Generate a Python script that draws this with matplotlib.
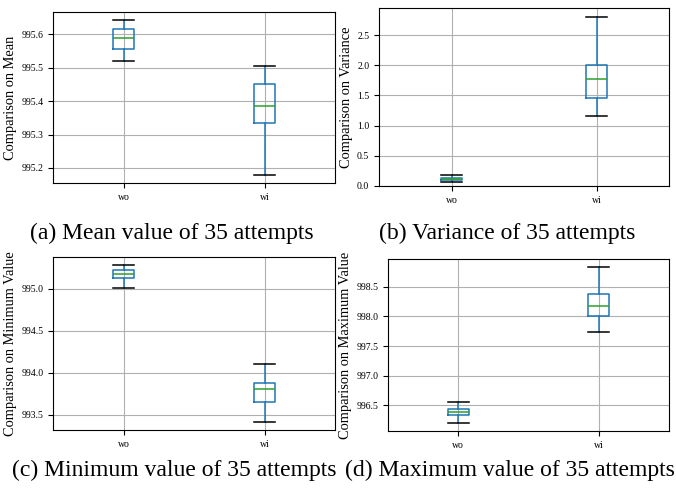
import matplotlib
matplotlib.use("Agg")
import matplotlib.pyplot as plt

plt.rcParams['font.family'] = ['Liberation Serif', 'DejaVu Serif']

labels = ["wo", "wi"]
# five-number summaries: [whislo, q1, med, q3, whishi]
mean_wo = [995.519, 995.556, 995.588, 995.617, 995.644]
mean_wi = [995.178, 995.335, 995.386, 995.452, 995.506]
var_wo = [0.066, 0.100, 0.120, 0.138, 0.187]
var_wi = [1.167, 1.465, 1.775, 2.000, 2.800]
min_wo = [995.008, 995.136, 995.180, 995.224, 995.288]
min_wi = [993.410, 993.650, 993.810, 993.875, 994.108]
max_wo = [996.196, 996.331, 996.387, 996.444, 996.562]
max_wi = [997.734, 998.005, 998.169, 998.371, 998.838]

ylabels = ["Comparison on Mean", "Comparison on Variance",
           "Comparison on Minimum Value", "Comparison on Maximum Value"]
captions = ["(a) Mean value of 35 attempts", "(b) Variance of 35 attempts",
            "(c) Minimum value of 35 attempts", "(d) Maximum value of 35 attempts"]

W, H = 676, 488
fig = plt.figure(figsize=(W / 100, H / 100), dpi=100)

def rect(x0, y0, x1, y1):
    return [x0 / W, 1 - y1 / H, (x1 - x0) / W, (y1 - y0) / H]

rects = [rect(53, 12, 335, 183), rect(379, 8, 669, 186),
         rect(53, 257, 335, 430), rect(388, 259, 669, 431)]
data = [(mean_wo, mean_wi), (var_wo, var_wi), (min_wo, min_wi), (max_wo, max_wi)]

def stats(s, lab):
    return dict(whislo=s[0], q1=s[1], med=s[2], q3=s[3], whishi=s[4], fliers=[], label=lab)

for i, (r, d) in enumerate(zip(rects, data)):
    ax = fig.add_axes(r)
    bxps = [stats(d[0], labels[0]), stats(d[1], labels[1])]
    ax.bxp(bxps, positions=[1, 2], widths=0.15, capwidths=0.15,
           boxprops=dict(color='#1f77b4', linewidth=1.1),
           whiskerprops=dict(color='#1f77b4', linewidth=1.1),
           capprops=dict(color='k', linewidth=1.1),
           medianprops=dict(color='#2ca02c', linewidth=1.1))
    ax.grid(True, color='#b0b0b0', linewidth=0.8)
    ax.set_axisbelow(True)
    ax.set_ylabel(ylabels[i], fontsize=10.4, labelpad=3)
    ax.tick_params(labelsize=7)
    ax.set_xlim(0.5, 2.5)
    if i == 1:
        ax.set_ylim(0, 2.948)

fig.text(172 / W, 1 - 233 / H, captions[0], ha='center', va='center', fontsize=17)
fig.text(507 / W, 1 - 233 / H, captions[1], ha='center', va='center', fontsize=17)
fig.text(174 / W, 1 - 470 / H, captions[2], ha='center', va='center', fontsize=17)
fig.text(510 / W, 1 - 470 / H, captions[3], ha='center', va='center', fontsize=17)

fig.savefig("out.png", dpi=100)
